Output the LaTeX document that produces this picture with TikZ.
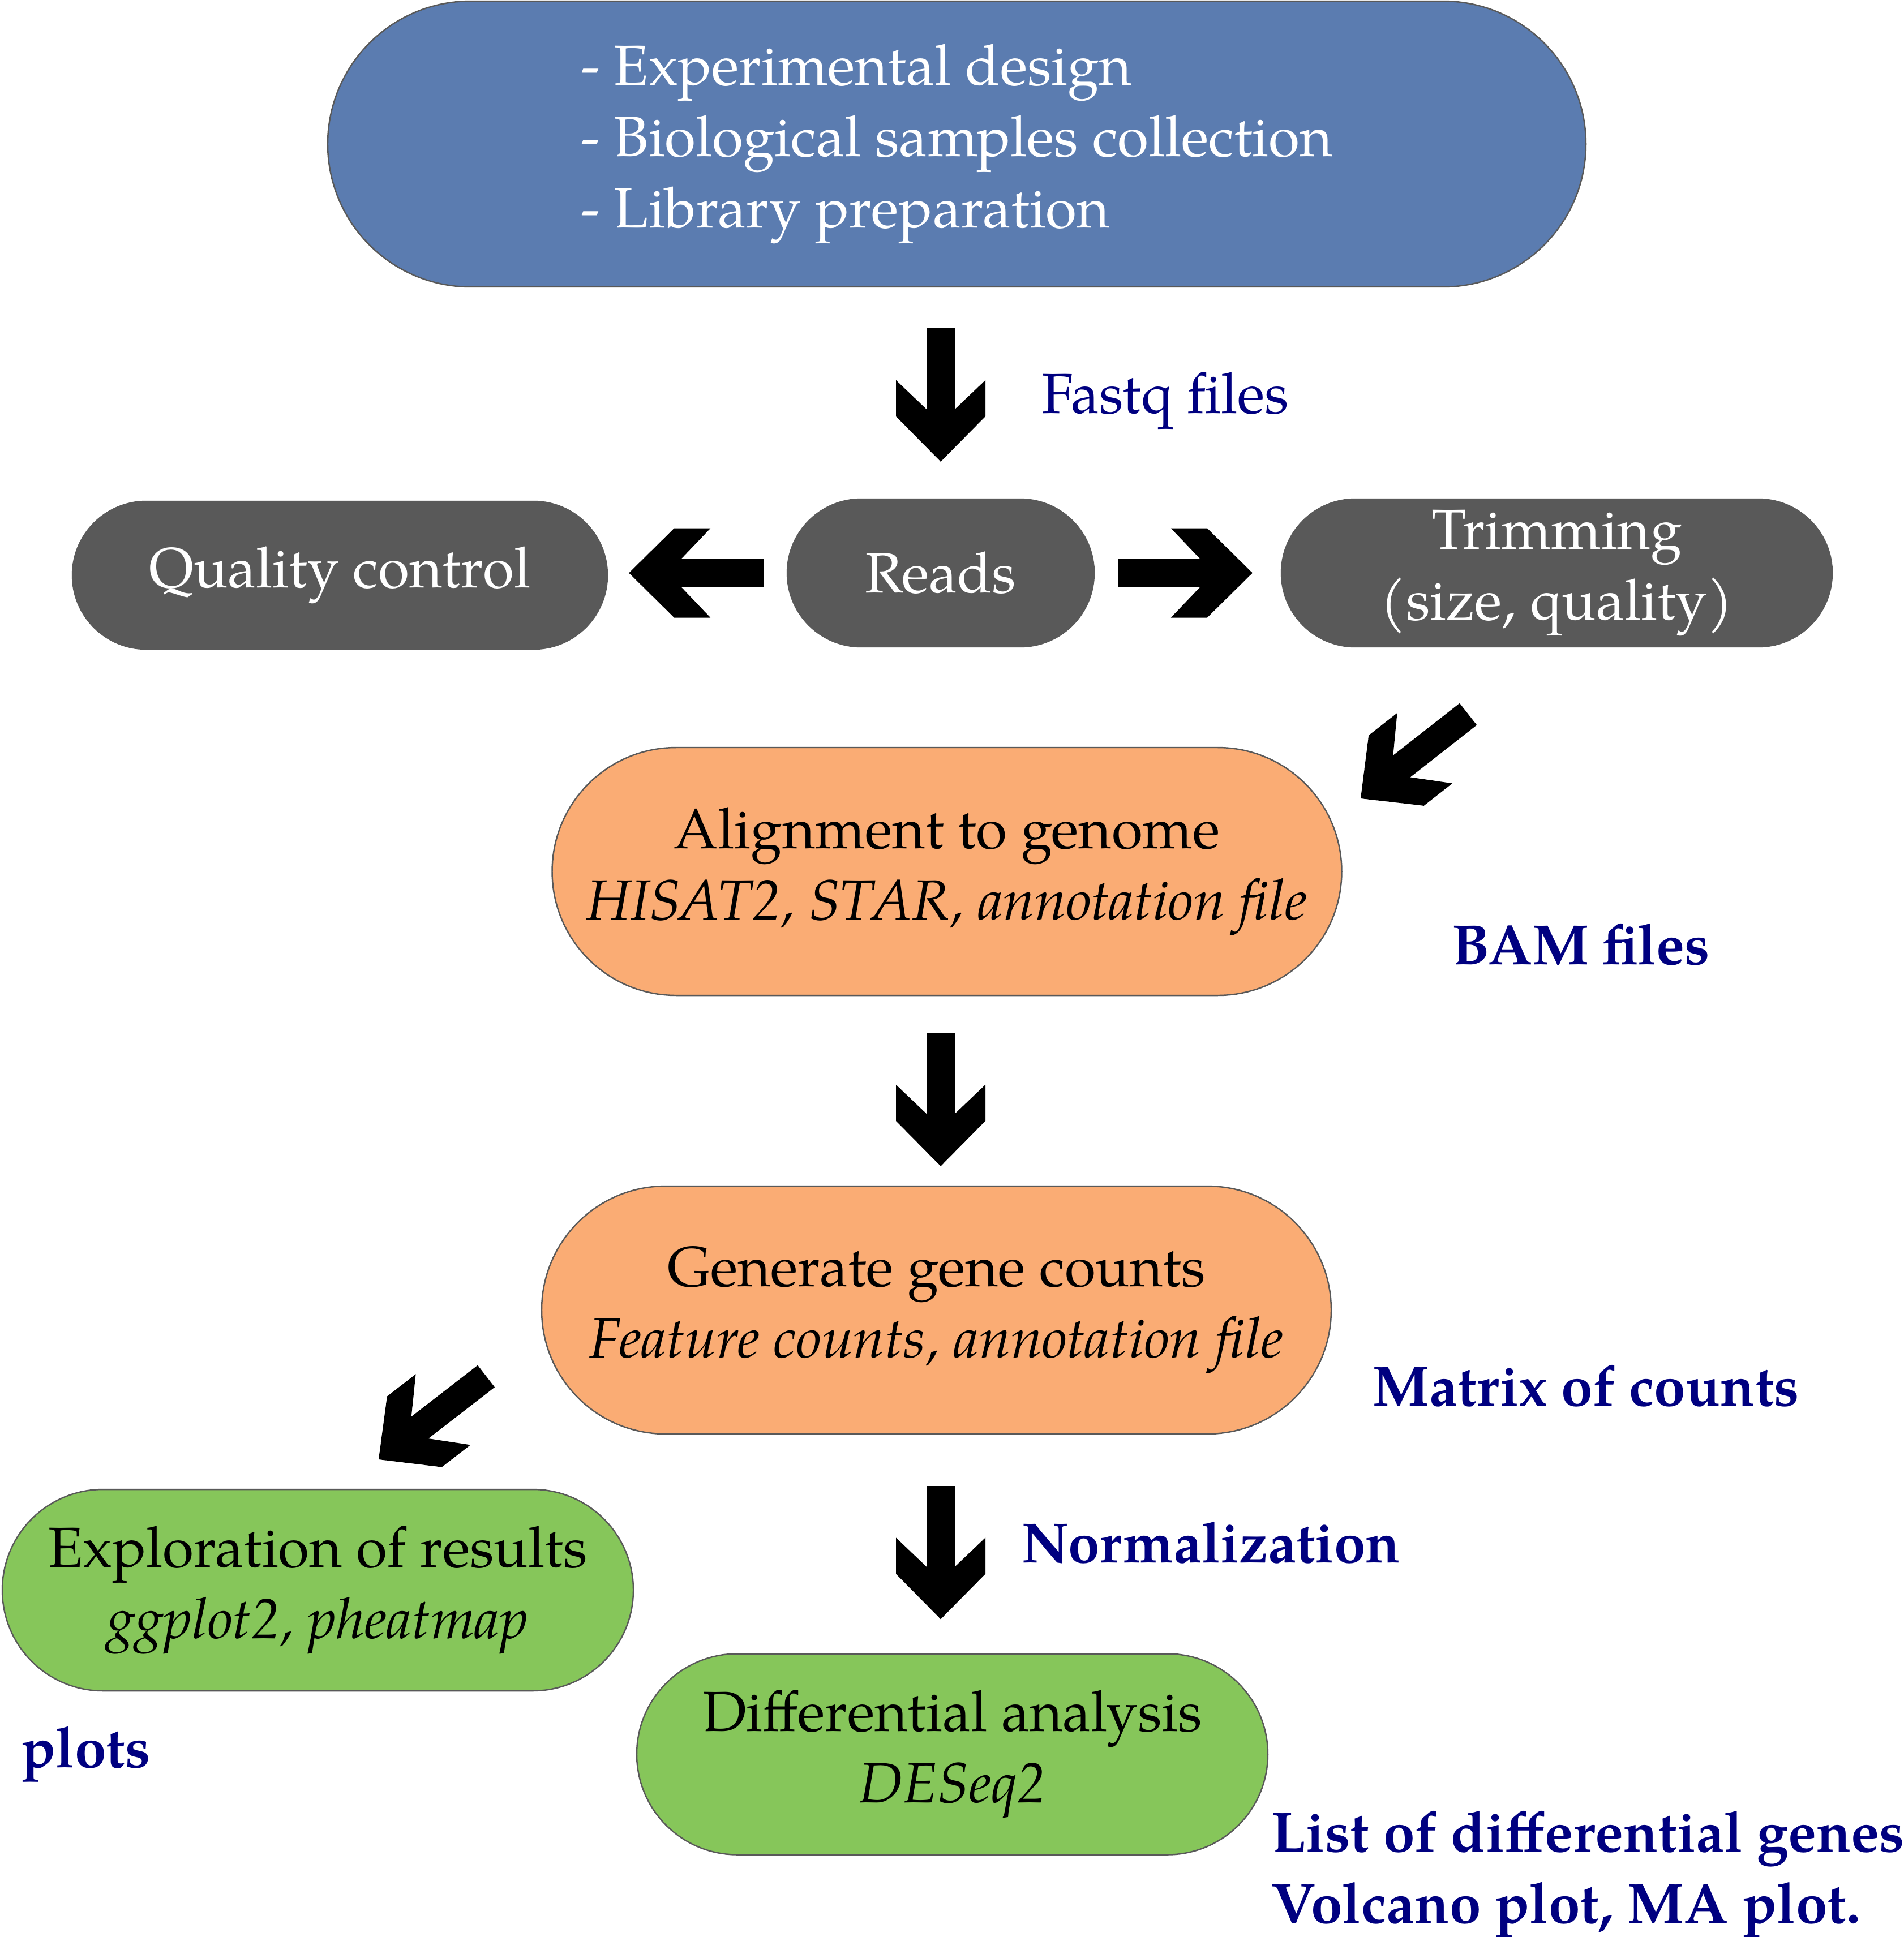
\documentclass[tikz,border=0pt]{standalone}
\usepackage{fontspec}
\setmainfont{texgyrepagella}[Extension=.otf, UprightFont=*-regular, BoldFont=*-bold, ItalicFont=*-italic, BoldItalicFont=*-bolditalic]
\usetikzlibrary{shapes.misc,arrows.meta}
\definecolor{designblue}{RGB}{91,124,176}
\definecolor{readgray}{RGB}{89,89,89}
\definecolor{alignorange}{RGB}{250,172,116}
\definecolor{resultgreen}{RGB}{134,198,90}
\definecolor{noteblue}{RGB}{0,0,128}
% thick chevron head for the block arrows
\pgfdeclarearrow{
  name = Chevron,
  setup code = {
    \pgfarrowssettipend{0cm}
    \pgfarrowssetlineend{-0.85cm}
    \pgfarrowssetvisualbackend{-0.92cm}
    \pgfarrowssetbackend{-1.44cm}
  },
  drawing code = {
    \pgfpathmoveto{\pgfpoint{0cm}{0cm}}
    \pgfpathlineto{\pgfpoint{-0.80cm}{0.79cm}}
    \pgfpathlineto{\pgfpoint{-1.44cm}{0.79cm}}
    \pgfpathlineto{\pgfpoint{-0.92cm}{0.245cm}}
    \pgfpathlineto{\pgfpoint{-0.92cm}{-0.245cm}}
    \pgfpathlineto{\pgfpoint{-1.44cm}{-0.79cm}}
    \pgfpathlineto{\pgfpoint{-0.80cm}{-0.79cm}}
    \pgfpathclose
    \pgfusepathqfill
  },
}
\tikzstyle{pill} = [rounded rectangle, draw=black!65, line width=0.7pt, align=center, inner sep=0pt]
\tikzstyle{designpill} = [pill, fill=designblue, text=white, minimum width=22.23cm, minimum height=5.05cm]
\tikzstyle{graypill} = [pill, fill=readgray, draw=readgray, text=white, minimum height=2.61cm]
\tikzstyle{orangepill} = [pill, fill=alignorange, minimum width=13.95cm, minimum height=4.38cm]
\tikzstyle{greenpill} = [pill, fill=resultgreen, minimum width=11.15cm, minimum height=3.55cm]
\tikzstyle{note} = [inner sep=0pt, anchor=base west, text=noteblue]
\tikzstyle{bigarrow} = [line width=0.49cm, -Chevron]

\begin{document}
\begin{tikzpicture}[font=\fontsize{28.5}{35.8}\selectfont]
    \useasboundingbox (0,0) rectangle (33.64,-34.23);
    % We start by placing the blocks
    \node [designpill, name=design, align=left] at (16.905,-2.545) {- Experimental design\\- Biological samples collection\\- Library preparation};
    \node [graypill, name=qc, minimum width=9.45cm] at (6.005,-10.165) {Quality control};
    \node [graypill, name=reads, minimum width=5.42cm] at (16.62,-10.125) {Reads};
    \node [graypill, name=trim, minimum width=9.73cm] at (27.505,-10.125) {Trimming\\(size, quality)};
    \node [orangepill, name=align] at (16.73,-15.40) {Alignment to genome\\\textit{HISAT2, STAR, annotation file}};
    \node [orangepill, name=counts] at (16.545,-23.15) {Generate gene counts\\\textit{Feature counts, annotation file}};
    \node [greenpill, name=explore, minimum height=3.56cm] at (5.615,-28.10) {Exploration of results\\\textit{ggplot2, pheatmap}};
    \node [greenpill, name=diffan] at (16.825,-31.00) {Differential analysis\\\textit{DESeq2}};
    % free ends of the slanted arrows
    \coordinate (trimout) at (25.94,-12.62);
    \coordinate (alignin) at (24.04,-14.11);
    \coordinate (countout) at (8.59,-24.32);
    \coordinate (explorein) at (6.69,-25.79);
    % We draw the arrows between the blocks
    \draw [bigarrow, shorten <=0.71cm, shorten >=0.65cm] (reads.north |- design.south) -- (reads.north);
    \draw [bigarrow, shorten <=0.41cm, shorten >=0.37cm] (reads.west) -- (qc.east |- reads.west);
    \draw [bigarrow, shorten <=0.42cm, shorten >=0.50cm] (reads.east) -- (trim.west);
    \draw [bigarrow] (trimout) -- (alignin);
    \draw [bigarrow, shorten <=0.65cm, shorten >=0.34cm] (align.south -| reads) -- (counts.north -| reads);
    \draw [bigarrow] (countout) -- (explorein);
    \draw [bigarrow, shorten <=0.91cm, shorten >=0.60cm] (counts.south -| reads) -- (diffan.north -| reads);
    % labels of the data passed on
    \node [note] (fastq) at (18.40,-7.30) {Fastq files};
    \node [note] (bam) at (25.65,-17.04) {\bfseries BAM files};
    \node [note] (matrix) at (24.25,-24.84) {\bfseries Matrix of counts};
    \node [note] (norm) at (18.05,-27.61) {\bfseries Normalization};
    \node [note] (plots) at (0.37,-31.23) {\bfseries plots};
    \node [note, align=left, font=\fontsize{28.5}{35.8}\selectfont\bfseries] (genes) at (22.46,-33.98) {List of differential genes\\Volcano plot, MA plot.};
\end{tikzpicture}
\end{document}
